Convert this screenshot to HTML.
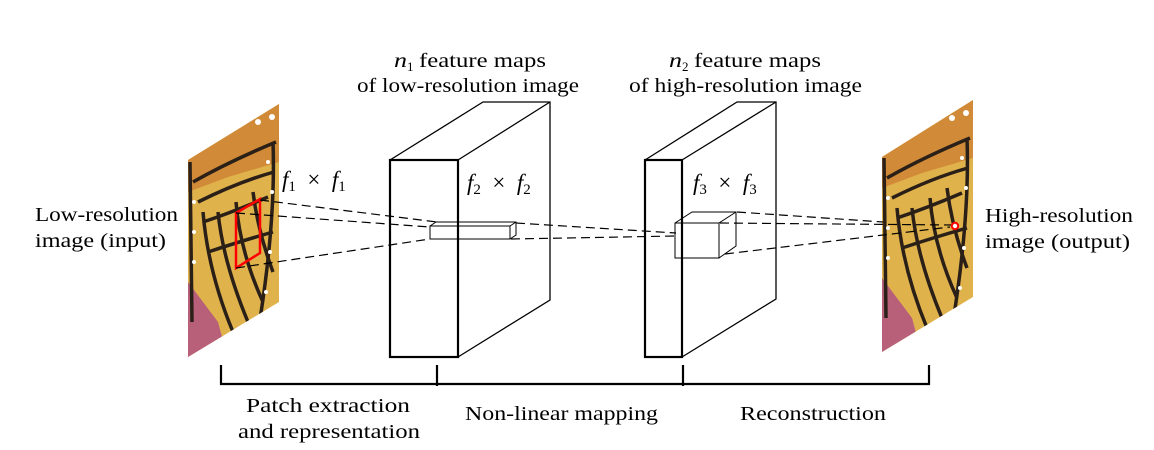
<!DOCTYPE html>
<html><head><meta charset="utf-8"><style>
html,body{margin:0;padding:0;background:#fff;}
svg{display:block;}
text{font-family:"Liberation Serif",serif;fill:#000;}
</style></head><body>
<svg width="1154" height="450" viewBox="0 0 1154 450" xmlns="http://www.w3.org/2000/svg">
<defs>
<clipPath id="cl"><polygon points="188,160 279,104 279,302 188,357"/></clipPath>
<clipPath id="cr"><polygon points="882,157 973,100 973,297 882,352"/></clipPath>
<g id="bf">
<rect x="0" y="0" width="91" height="257" fill="#e0b24c"/>
<polygon points="0,0 91,0 91,60 40,75 0,90" fill="#d08a38"/>
<polygon points="0,180 30,220 40,257 0,257" fill="#b8607a"/>
<polygon points="60,230 91,200 91,257 50,257" fill="#b86a80"/>
<g stroke="#2a2018" fill="none" stroke-width="3.5">
<path d="M5,80 Q40,60 88,40"/>
<path d="M10,100 Q50,80 86,70"/>
<path d="M15,120 Q45,110 80,95"/>
<path d="M15,110 Q20,170 45,230"/>
<path d="M30,110 Q35,160 60,220"/>
<path d="M48,100 Q52,150 75,200"/>
<path d="M65,90 Q70,130 85,170"/>
<path d="M85,40 Q88,120 70,230"/>
<path d="M2,60 L4,220"/>
<path d="M20,150 Q50,140 85,130"/>
</g>
<g fill="#fff"><circle cx="6" cy="100" r="2"/><circle cx="6" cy="130" r="2"/><circle cx="6" cy="160" r="2"/><circle cx="80" cy="60" r="2"/><circle cx="84" cy="90" r="2"/><circle cx="82" cy="150" r="2"/><circle cx="78" cy="190" r="2"/><circle cx="70" cy="20" r="3"/><circle cx="84" cy="15" r="3"/></g>
</g>
</defs>
<g clip-path="url(#cl)"><use href="#bf" x="188" y="102"/></g>
<g clip-path="url(#cr)"><use href="#bf" x="882" y="98"/></g>
<polygon points="236,213 260,199 260,253 236,268" fill="none" stroke="#f00" stroke-width="2.5"/>

<g fill="none" stroke="#000" stroke-width="1.2" stroke-dasharray="9,5">
<line x1="260" y1="200" x2="437" y2="222"/>
<line x1="236" y1="213" x2="430" y2="227"/>
<line x1="236" y1="268" x2="430" y2="239"/>
<line x1="516" y1="223" x2="676" y2="233"/>
<line x1="511" y1="239" x2="676" y2="236"/>
<line x1="737" y1="212" x2="883" y2="222"/>
<line x1="720" y1="223" x2="953" y2="225"/>
<line x1="725" y1="254" x2="950" y2="227"/>
</g>

<g fill="none" stroke="#000">
<polyline points="390,160 483,102 550,102 550,300 458,357" stroke-width="1.3"/>
<line x1="458" y1="160" x2="550" y2="102" stroke-width="1.3"/>
<rect x="390" y="160" width="68" height="197" stroke-width="2.2"/>
<g stroke-width="1"><rect x="430" y="226" width="80" height="13"/><polyline points="430,226 436,222 516,222 516,235 510,239"/><line x1="510" y1="226" x2="516" y2="222"/></g>
</g>
<g fill="none" stroke="#000">
<polyline points="645,160 737,102 776,102 776,299 682,357" stroke-width="1.3"/>
<line x1="682" y1="160" x2="776" y2="102" stroke-width="1.3"/>
<rect x="645" y="160" width="37" height="197" stroke-width="2.2"/>
<g stroke-width="1"><rect x="675" y="223" width="44" height="35"/><polyline points="675,223 692,212 736,212 736,246 719,258"/><line x1="719" y1="223" x2="736" y2="212"/></g>
</g>
<circle cx="955" cy="226" r="3.2" fill="#fff" stroke="#f00" stroke-width="2"/>

<g fill="none" stroke="#000" stroke-width="2.2">
<polyline points="221,365 221,384 929,384 929,365"/>
<line x1="437" y1="365" x2="437" y2="386"/>
<line x1="683" y1="365" x2="683" y2="386"/>
</g>

<g font-size="20">
<text x="394" y="67" font-style="italic" textLength="13" lengthAdjust="spacingAndGlyphs">n</text>
<text x="407" y="71" font-size="13">1</text>
<text x="419" y="67" textLength="127" lengthAdjust="spacingAndGlyphs">feature maps</text>
<text x="357" y="92" textLength="222" lengthAdjust="spacingAndGlyphs">of low-resolution image</text>
<text x="669" y="67" font-style="italic" textLength="13" lengthAdjust="spacingAndGlyphs">n</text>
<text x="682" y="71" font-size="13">2</text>
<text x="694" y="67" textLength="127" lengthAdjust="spacingAndGlyphs">feature maps</text>
<text x="629" y="92" textLength="233" lengthAdjust="spacingAndGlyphs">of high-resolution image</text>
<text x="282" y="187" font-size="23" xml:space="preserve"><tspan font-style="italic">f</tspan><tspan font-size="15" dy="4">1</tspan><tspan dy="-4">  ×  </tspan><tspan font-style="italic">f</tspan><tspan font-size="15" dy="4">1</tspan></text>
<text x="467" y="190" font-size="23" xml:space="preserve"><tspan font-style="italic">f</tspan><tspan font-size="15" dy="4">2</tspan><tspan dy="-4">  ×  </tspan><tspan font-style="italic">f</tspan><tspan font-size="15" dy="4">2</tspan></text>
<text x="693" y="190" font-size="23" xml:space="preserve"><tspan font-style="italic">f</tspan><tspan font-size="15" dy="4">3</tspan><tspan dy="-4">  ×  </tspan><tspan font-style="italic">f</tspan><tspan font-size="15" dy="4">3</tspan></text>
<text x="35" y="221" textLength="143" lengthAdjust="spacingAndGlyphs">Low-resolution</text>
<text x="35" y="247" textLength="131" lengthAdjust="spacingAndGlyphs">image (input)</text>
<text x="985" y="222" textLength="148" lengthAdjust="spacingAndGlyphs">High-resolution</text>
<text x="985" y="248" textLength="145" lengthAdjust="spacingAndGlyphs">image (output)</text>
<text x="246" y="412" textLength="164" lengthAdjust="spacingAndGlyphs">Patch extraction</text>
<text x="238" y="438" textLength="182" lengthAdjust="spacingAndGlyphs">and representation</text>
<text x="465" y="420" textLength="193" lengthAdjust="spacingAndGlyphs">Non-linear mapping</text>
<text x="740" y="420" textLength="146" lengthAdjust="spacingAndGlyphs">Reconstruction</text>
</g>
</svg>
</body></html>
